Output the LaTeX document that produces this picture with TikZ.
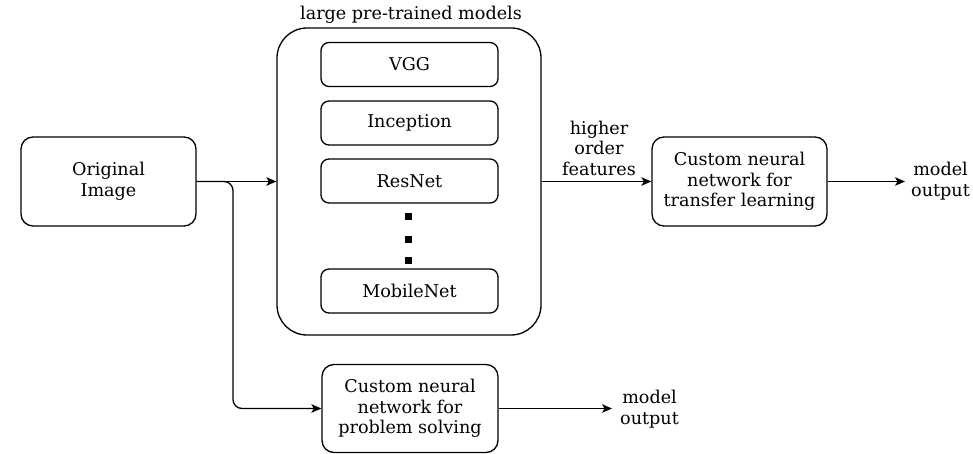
\documentclass[tikz,border=0pt]{standalone}
\usepackage{fontspec}
\setmainfont{DejaVu Serif}
\usetikzlibrary{arrows.meta}
\begin{document}
\begin{tikzpicture}[x=1pt,y=-1pt,
  every node/.style={font=\fontsize{17.6}{20.5}\selectfont, text=black},
  rbox/.style={draw, line width=1.3pt, rounded corners=12pt, align=center, inner sep=0pt},
  ibox/.style={draw, line width=1.3pt, rounded corners=8pt, align=center, inner sep=0pt, minimum width=177pt, minimum height=44pt},
  lbl/.style={align=center, inner sep=0pt},
  conn/.style={line width=1.3pt, -{Stealth[length=10pt,width=8.5pt,inset=2.5pt]}},
  dot/.style={fill=black, draw=none, minimum size=7pt, inner sep=0pt}
]
\useasboundingbox (0,0) rectangle (973,454);
% boxes
\node[rbox, minimum width=175pt, minimum height=89pt] (oi) at (108.5,181.5) {Original\\Image};
\node[draw, line width=1.3pt, rounded corners=30pt, minimum width=264pt, minimum height=307pt, inner sep=0pt] (big) at (409,181.5) {};
\node[lbl] (title) at (411,15) {large pre-trained models};
\node[ibox] (vgg) at (409.5,64.5) {VGG};
\node[ibox] (inc) at (409.5,123) {Inception};
\node[ibox] (res) at (409.5,181) {ResNet};
\node[ibox] (mob) at (409.5,291) {MobileNet};
\node[dot] (d1) at (408,217) {};
\node[dot] (d2) at (408,239) {};
\node[dot] (d3) at (408,260) {};
\node[rbox, minimum width=175pt, minimum height=89pt] (tl) at (739.5,181.5) {Custom neural\\network for\\transfer learning};
\node[rbox, minimum width=176pt, minimum height=88pt] (ps) at (410,408.5) {Custom neural\\network for\\problem solving};
\node[lbl] (hof) at (599,148) {higher\\order\\features};
\node[lbl, anchor=west] (out1) at (911,181) {model\\output};
\node[lbl, anchor=west] (out2) at (620,409) {model\\output};
\coordinate (out1c) at (905,181.5);
\coordinate (out2c) at (612,408.5);
\coordinate (br1) at (233,181.5);
\coordinate (br2) at (233,408.5);
% connectors
\draw[conn] (oi.east) -- (big.west |- oi.east);
\draw[conn, rounded corners=9pt] (oi.east) -- (br1) -- (br2) -- (ps.west |- br2);
\draw[conn] (big.east |- tl.west) -- (tl.west);
\draw[conn] (tl.east) -- (out1c);
\draw[conn] (ps.east |- out2c) -- (out2c);
\end{tikzpicture}
\end{document}
